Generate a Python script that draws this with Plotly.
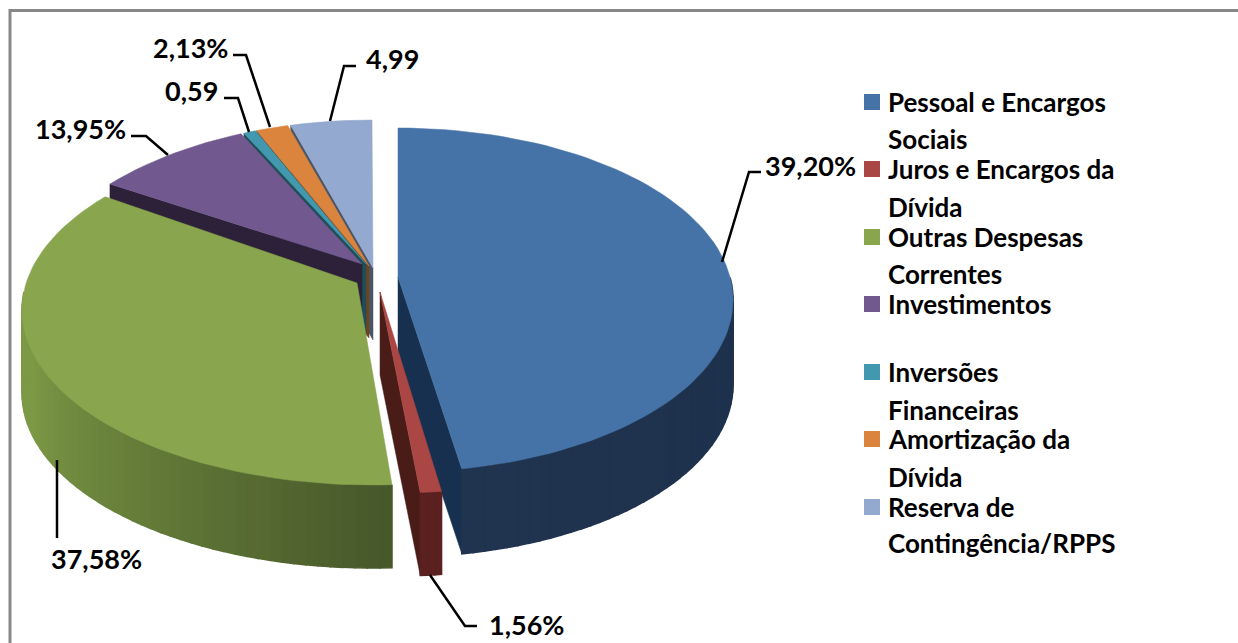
import math
import plotly.graph_objects as go

# ---- data ----
categories = ["Pessoal e Encargos Sociais", "Juros e Encargos da Dívida", "Outras Despesas Correntes",
              "Investimentos", "Inversões Financeiras", "Amortização da Dívida", "Reserva de Contingência/RPPS"]
data_labels = ["39,20%", "1,56%", "37,58%", "13,95%", "0,59", "2,13%", "4,99"]
# angular share of each slice as it is drawn in the picture (%)
drawn_share = [46.95, 2.14, 37.11, 7.7, 0.7, 1.53, 3.87]
top_colors = ["#4572A7", "#AA4643", "#89A54E", "#71588F", "#4198AF", "#DB843D", "#93A9CF"]
edge_colors = ["#17304F", "#4A1C18", "#89A54E", "#2C2138", "#1E4E5A", "#6E4420", "#4A5568"]
legend_lines = [["Pessoal e Encargos", "Sociais"], ["Juros e Encargos da", "Dívida"], ["Outras Despesas", "Correntes"],
                ["Investimentos"], ["Inversões", "Financeiras"], ["Amortização da", "Dívida"],
                ["Reserva de", "Contingência/RPPS"]]

# ---- drawing geometry ----
W, H = 1238, 643
# ellipse cx, cy, rx, ry ; apex x, y ; start trim, end trim (deg); depth ; which radial wall
geom = [
    dict(e=(398, 300, 335, 172), a=(398, 277), trim=(0, 0), d=85, wall="end", ramp=("#1B2E49", "#20344F")),
    dict(e=(396, 303, 350, 190), a=(380, 292), trim=(3.5, 0.7), d=83, wall="end", ramp=("#5A2120", "#5A2120")),
    dict(e=(372, 310, 350, 175), a=(357, 283), trim=(0, 0), d=83, wall=None, ramp=("#47582A", "#7C9945")),
    dict(e=(372, 310, 350, 190), a=(362, 264), trim=(1.2, 0), d=72, wall="start", ramp=("#2C2138", "#2C2138")),
    dict(e=(372, 310, 350, 190), a=(366, 264), trim=(0.5, 0), d=72, wall="start", ramp=("#1E4E5A", "#1E4E5A")),
    dict(e=(372, 310, 350, 190), a=(369, 266), trim=(0.2, 0), d=72, wall="start", ramp=("#6E4420", "#6E4420")),
    dict(e=(372, 310, 350, 190), a=(373, 268), trim=(0.5, 0), d=72, wall="start", ramp=("#4A5568", "#4A5568")),
]
draw_order = [6, 5, 4, 3, 2, 0, 1]

fig = go.Figure()


def poly(xs, ys, color, lw=0.5):
    fig.add_trace(go.Scatter(x=xs, y=ys, mode="lines", fill="toself", fillcolor=color,
                             line=dict(color=color, width=lw), hoverinfo="skip", showlegend=False))


def mix(c1, c2, f):
    a = [int(c1[i:i + 2], 16) for i in (1, 3, 5)]
    b = [int(c2[i:i + 2], 16) for i in (1, 3, 5)]
    return "#%02X%02X%02X" % tuple(round(p + (q - p) * f) for p, q in zip(a, b))


def pt(e, t):
    r = math.radians(t)
    return e[0] + e[2] * math.sin(r), e[1] - e[3] * math.cos(r)


starts = []
c = 0.0
for s in drawn_share:
    starts.append(c)
    c += s

for i in draw_order:
    g = geom[i]
    t0 = starts[i] * 3.6 + g["trim"][0]
    t1 = (starts[i] + drawn_share[i]) * 3.6 - g["trim"][1]
    n = max(3, int((t1 - t0) / 2.0))
    ts = [t0 + (t1 - t0) * k / n for k in range(n + 1)]
    arc = [pt(g["e"], t) for t in ts]
    d = g["d"]
    # radial cut wall
    if g["wall"]:
        p = arc[-1] if g["wall"] == "end" else arc[0]
        ax, ay = g["a"]
        poly([ax, p[0], p[0], ax, ax], [ay, p[1], p[1] + d, ay + d, ay], edge_colors[i])
    # outer wall, shaded strip by strip (only the front of the ellipse shows)
    for k in range(n):
        if math.cos(math.radians(ts[k])) > 0.1 and math.cos(math.radians(ts[k + 1])) > 0.1:
            continue
        f = k / max(1, n - 1)
        if i == 2:
            f = min(1.0, f / 0.6)
        col = mix(g["ramp"][0], g["ramp"][1], f)
        (x0, y0), (x1, y1) = arc[k], arc[k + 1]
        poly([x0, x1, x1, x0, x0], [y0, y1, y1 + d, y0 + d, y0], col, lw=1.5)
    # top face
    xs = [g["a"][0]] + [p[0] for p in arc] + [g["a"][0]]
    ys = [g["a"][1]] + [p[1] for p in arc] + [g["a"][1]]
    poly(xs, ys, top_colors[i])

# leader lines and data labels
leaders = [
    [(722, 262), (749, 172), (761, 172)],
    [(430, 575), (465, 626), (477, 626)],
    [(57, 460), (57, 538)],
    [(168, 155), (146, 136), (131, 136)],
    [(249, 132), (238, 98), (224, 98)],
    [(270, 127), (246, 55), (233, 55)],
    [(330, 121), (344, 66), (356, 66)],
]
label_pos = [(810, 165), (526, 624), (96, 558), (80, 128), (191, 90), (190, 47), (392, 58)]
for pts, lab, lp in zip(leaders, data_labels, label_pos):
    fig.add_trace(go.Scatter(x=[p[0] for p in pts], y=[p[1] for p in pts], mode="lines",
                             line=dict(color="#000000", width=2.5), hoverinfo="skip", showlegend=False))
    fig.add_annotation(x=lp[0], y=lp[1], text=lab, showarrow=False, xanchor="center", yanchor="middle",
                       font=dict(family="Lato", size=27, color="#000000", weight="bold"))

# legend, one row per text line
row_y = [102, 139, 169, 207, 237, 274, 304, 372, 410, 439, 477, 507, 543]
row_index = 0
sq_x, sq_y = [], []
for lines in legend_lines:
    sq_x.append(872)
    sq_y.append(row_y[row_index] + 0)
    for ln in lines:
        fig.add_annotation(x=886, y=row_y[row_index], text=ln, showarrow=False, xanchor="left", yanchor="middle",
                           font=dict(family="Lato", size=26, color="#000000", weight="bold"))
        row_index += 1
    if lines == ["Investimentos"]:
        row_index = 7
fig.add_trace(go.Scatter(x=sq_x, y=sq_y, mode="markers", marker=dict(symbol="square", size=16, color=top_colors),
                         hoverinfo="skip", showlegend=False))

fig.add_shape(type="rect", x0=10, y0=10.5, x1=1260, y1=670, line=dict(color="#888888", width=3))
fig.update_layout(width=W, height=H, autosize=False, margin=dict(l=0, r=0, t=0, b=0),
                  paper_bgcolor="white", plot_bgcolor="white",
                  xaxis=dict(range=[0, W], visible=False, fixedrange=True),
                  yaxis=dict(range=[H, 0], visible=False, fixedrange=True))
fig.write_html("out.html",
               post_script="document.body.style.margin='0';document.body.style.overflow='hidden';"
                           "document.body.style.fontVariantLigatures='none';",
               config={"displayModeBar": False})
